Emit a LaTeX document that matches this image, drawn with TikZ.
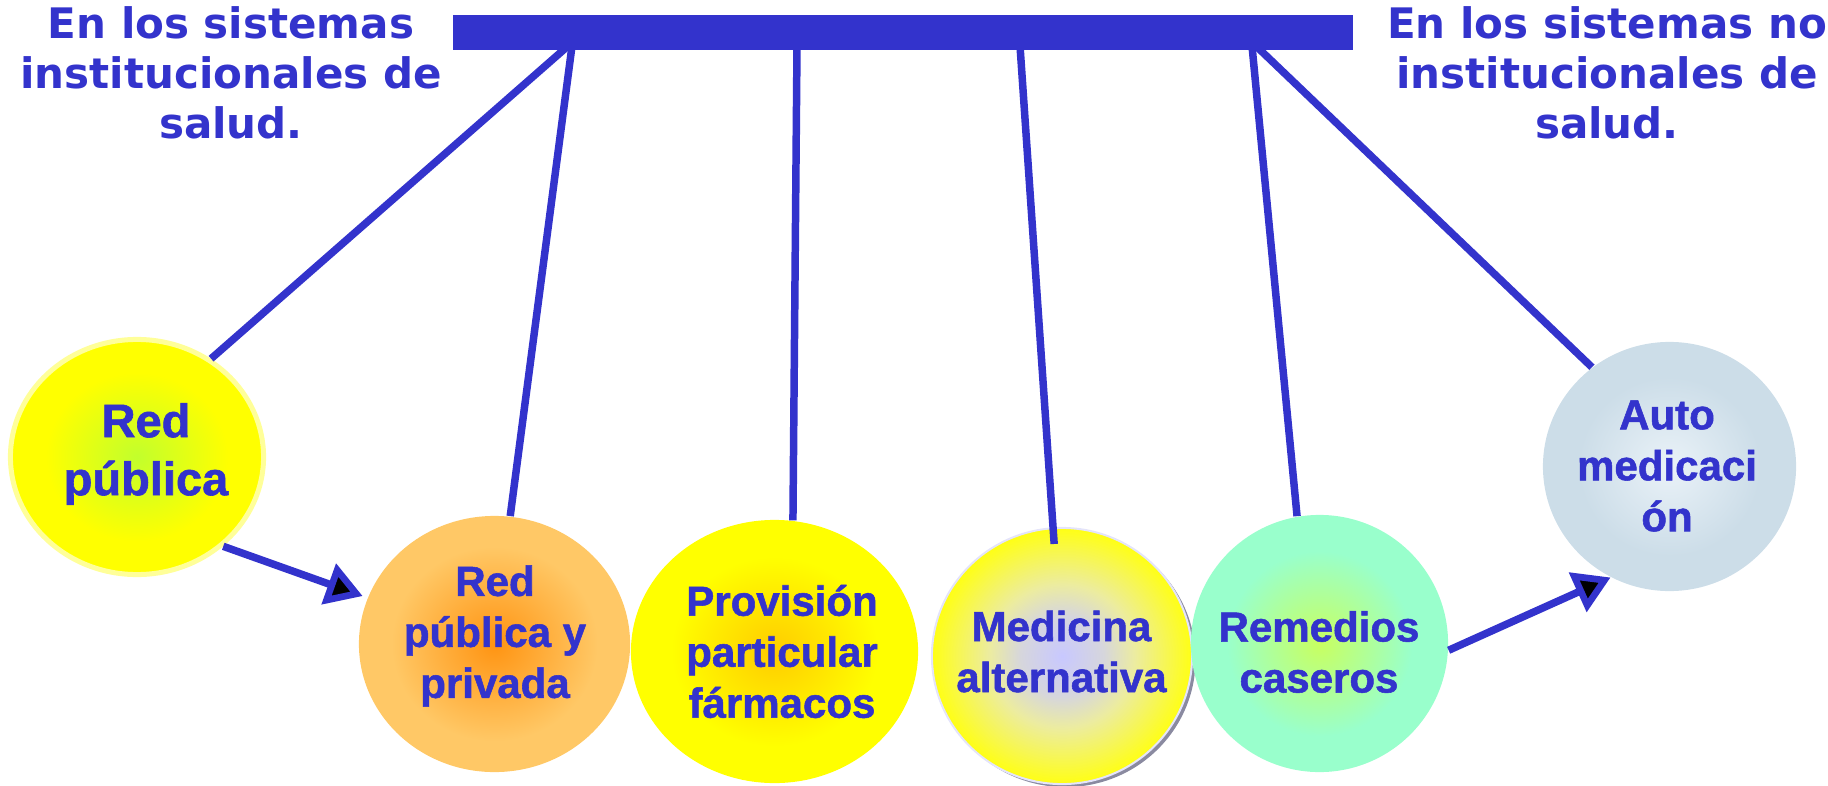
\documentclass[tikz,border=0pt]{standalone}
\usepackage{fontspec}
\setmainfont{Liberation Sans}[BoldFeatures={FakeBold=1.3}]
\newfontfamily\hdrfont{DejaVu Sans}
\usetikzlibrary{shapes.geometric,arrows.meta,calc}

\definecolor{dblue}{HTML}{3333CC}
\definecolor{rpIn}{HTML}{C2FF2C}
\definecolor{rpOut}{HTML}{FFFF00}
\definecolor{rpBorder}{HTML}{FFFF99}
\definecolor{rppIn}{HTML}{FF9412}
\definecolor{rppOut}{HTML}{FFC866}
\definecolor{provIn}{HTML}{FFCC00}
\definecolor{provOut}{HTML}{FFFF00}
\definecolor{medIn}{HTML}{C8C8FF}
\definecolor{medA}{HTML}{D6D6DC}
\definecolor{medB}{HTML}{ECECA0}
\definecolor{medOut}{HTML}{FFFF14}
\definecolor{medBorder}{HTML}{E4E4FA}
\definecolor{medShadow}{HTML}{8A8AA0}
\definecolor{remIn}{HTML}{C8FF60}
\definecolor{remOut}{HTML}{99FFCC}
\definecolor{autoIn}{HTML}{EAF2F8}
\definecolor{autoOut}{HTML}{CCDDE8}

\pgfdeclareradialshading{shRP}{\pgfpoint{0bp}{0bp}}{color(0bp)=(rpIn); color(18bp)=(rpOut); color(50bp)=(rpOut)}
\pgfdeclareradialshading{shRPP}{\pgfpoint{0bp}{0bp}}{color(0bp)=(rppIn); color(19bp)=(rppOut); color(50bp)=(rppOut)}
\pgfdeclareradialshading{shPROV}{\pgfpoint{0bp}{0bp}}{color(0bp)=(provIn); color(18bp)=(provOut); color(50bp)=(provOut)}
\pgfdeclareradialshading{shMED}{\pgfpoint{0bp}{0bp}}{color(0bp)=(medIn); color(8bp)=(medA); color(14bp)=(medB); color(25bp)=(medOut); color(50bp)=(medOut)}
\pgfdeclareradialshading{shREM}{\pgfpoint{0bp}{0bp}}{color(0bp)=(remIn); color(18bp)=(remOut); color(50bp)=(remOut)}
\pgfdeclareradialshading{shAUTO}{\pgfpoint{0bp}{0bp}}{color(0bp)=(autoIn); color(18bp)=(autoOut); color(50bp)=(autoOut)}

\begin{document}
\begin{tikzpicture}[x=0.01cm, y=-0.01cm,
  ball/.style={ellipse, inner sep=0pt, draw=none},
  lbl/.style={font=\bfseries\fontsize{11.95pt}{14.5pt}\selectfont, text=dblue, align=center, inner sep=0pt},
  biglbl/.style={lbl, font=\bfseries\fontsize{13.37pt}{16.5pt}\selectfont},
  hdr/.style={font=\hdrfont\bfseries\fontsize{11.95pt}{14.2pt}\selectfont, text=dblue, align=center, inner sep=0pt},
  wire/.style={draw=dblue, line width=2.13pt},
  arr/.style={wire, -{Triangle[length=0.36cm, width=0.42cm, fill=black, line width=1.9pt]}}
]
\useasboundingbox (0,0) rectangle (1828,785);

% headers
\node[hdr] (hleft) at (231,73) {En los sistemas\\institucionales de\\salud.};
\node[hdr] (hright) at (1607,73) {En los sistemas no\\institucionales de\\salud.};

% bar
\node[fill=dblue, inner sep=0pt, minimum width=9cm, minimum height=0.35cm, anchor=north west] (bar) at (452,14) {};
\coordinate (t1) at (568,46);
\coordinate (t2) at (572,46);
\coordinate (t3) at (797,46);
\coordinate (t4) at (1020,46);
\coordinate (t5) at (1252,46);
\coordinate (t6) at (1256,46);

% balls
\node[ball, minimum width=2.53cm, minimum height=2.35cm, shading=shRP, draw=rpBorder, line width=0.05cm] (rp) at (137,457) {};
\node[ball, minimum width=2.71cm, minimum height=2.56cm, shading=shRPP] (rpp) at (494.5,644) {};
\node[ball, minimum width=2.87cm, minimum height=2.63cm, shading=shPROV] (prov) at (774.5,651.5) {};
\node[ball, minimum width=2.60cm, minimum height=2.56cm, fill=medShadow] (medsh) at (1065.5,659) {};
\node[ball, minimum width=2.60cm, minimum height=2.56cm, shading=shMED, draw=medBorder, line width=0.02cm] (med) at (1062,656) {};
\node[ball, minimum width=2.57cm, minimum height=2.57cm, shading=shREM] (rem) at (1319.5,643.5) {};
\node[ball, minimum width=2.53cm, minimum height=2.49cm, shading=shAUTO] (auto) at (1669.5,466.5) {};

% labels
\node[biglbl] (rpt) at (146,454) {Red\\pública};
\node[lbl] (rppt) at (495,636) {Red\\pública y\\privada};
\node[lbl] (provt) at (782,651.5) {Provisión\\particular\\fármacos};
\node[lbl] (medt) at (1061.5,651.5) {Medicina\\alternativa};
\node[lbl] (remt) at (1319,652) {Remedios\\caseros};
\node[lbl] (autot) at (1667,466) {Auto\\medicaci\\ón};

% hanging wires
\draw[wire] (t1) -- (rp.53);
\draw[wire] (t2) -- (rpp.83);
\draw[wire] (t3) -- (prov.82);
\draw[wire] (t4) -- ($(med.center)!0.87!(med.94)$);
\draw[wire] (t5) -- (rem.100);
\draw[wire] (t6) -- (auto.128);

% arrows
\draw[arr, shorten >=0.05cm] (rp.-46) -- (rpp.160);
\draw[arr] (rem.-3) -- (auto.-118);
\end{tikzpicture}
\end{document}
